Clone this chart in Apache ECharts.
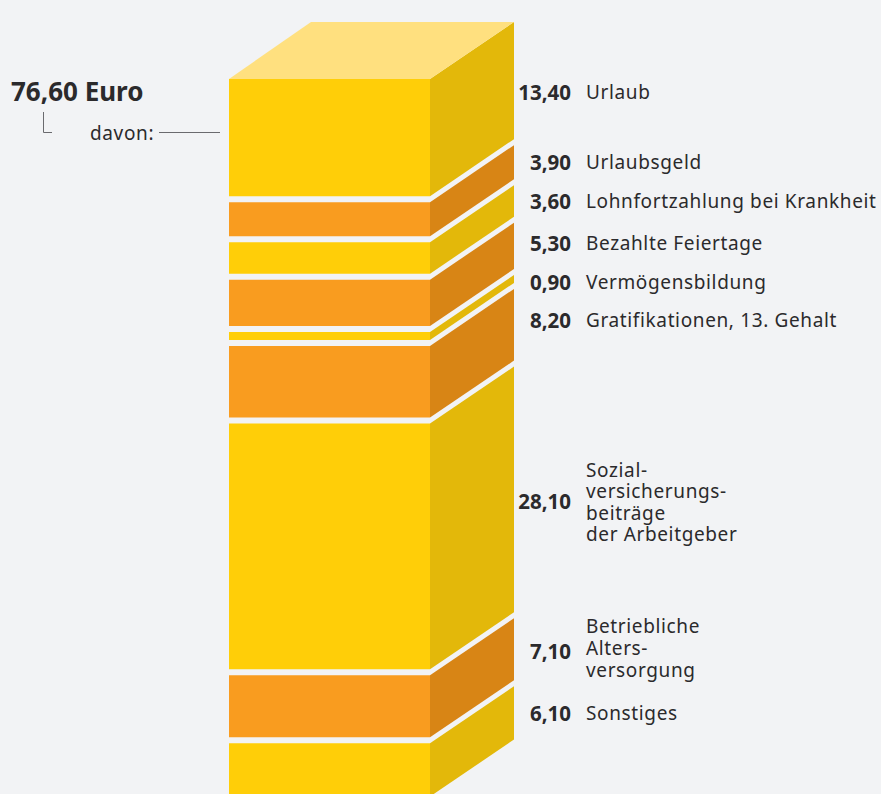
<!DOCTYPE html>
<html lang="de">
<head>
<meta charset="utf-8">
<title>Lohnnebenkosten</title>
<script src="https://cdn.jsdelivr.net/npm/echarts@6/dist/echarts.min.js"></script>
<style>
  html, body { margin: 0; padding: 0; background: #f2f3f5; }
  #chart { width: 881px; height: 794px; overflow: hidden; }
  #chart svg text { letter-spacing: 0.63px; }
  #chart svg text[style*="bold"] { letter-spacing: 0; }
</style>
</head>
<body>
<div id="chart"></div>
<script>
// Bestandteile der Personalzusatzkosten, je 100 Euro Bruttolohn
const total = '76,60 Euro';
const values = [13.4, 3.9, 3.6, 5.3, 0.9, 8.2, 28.1, 7.1, 6.1];
const valueLabels = ['13,40', '3,90', '3,60', '5,30', '0,90', '8,20', '28,10', '7,10', '6,10'];
const names = [
  'Urlaub',
  'Urlaubsgeld',
  'Lohnfortzahlung bei Krankheit',
  'Bezahlte Feiertage',
  'Vermögensbildung',
  'Gratifikationen, 13. Gehalt',
  'Sozial-\nversicherungs-\nbeiträge\nder Arbeitgeber',
  'Betriebliche\nAlters-\nversorgung',
  'Sonstiges'
];

// Layout der Beschriftung: Mittellinien der Wert- und Namensblöcke in Pixeln
const valueCenters = [92, 162, 201, 243, 282, 320, 501, 651, 713];
const nameCenters = [92, 162, 201, 243, 282, 320, 502, 648, 713];
const lineHeight = 21.6;

const gapValue = 0.6865;      // Abstand zwischen den Schichten, in Euro
const depthX = 84, depthY = 57; // perspektivischer Versatz der Säule
const bg = '#f2f3f5';
const ink = '#2b2a2c';
const frontColors = ['#ffce08', '#f99c1f'];
const sideColors = ['#e3b80a', '#d88515'];
const topColor = '#ffe07f';

// Schichten von oben nach unten aufeinanderlegen
let cursor = 0;
const segments = values.map(function (v, i) {
  const seg = [i, cursor, cursor + v];
  cursor += v + gapValue;
  return seg;
});

function renderSegment(params, api) {
  const idx = api.value(0);
  const a = api.coord([0, api.value(1)]);
  const b = api.coord([1, api.value(2)]);
  const c = idx % 2;
  const children = [
    {
      type: 'polygon',
      shape: { points: [[a[0], a[1]], [b[0], a[1]], [b[0], b[1]], [a[0], b[1]]] },
      style: { fill: frontColors[c] }
    },
    {
      type: 'polygon',
      shape: { points: [[b[0], a[1]], [b[0] + depthX, a[1] - depthY], [b[0] + depthX, b[1] - depthY], [b[0], b[1]]] },
      style: { fill: sideColors[c] }
    }
  ];
  if (idx === 0) {
    children.push({
      type: 'polygon',
      shape: { points: [[a[0], a[1]], [a[0] + depthX - 2, a[1] - depthY], [b[0] + depthX, a[1] - depthY], [b[0], a[1]]] },
      style: { fill: topColor }
    });
  }
  return { type: 'group', children: children };
}

// Wert rechtsbündig, Bezeichnung linksbündig als ein mehrzeiliger Block
const labelGraphics = [];
values.forEach(function (v, i) {
  labelGraphics.push({
    type: 'text', x: 571, y: valueCenters[i],
    style: { text: valueLabels[i], fill: ink, font: 'bold 20.5px "Noto Sans"', textAlign: 'right', textVerticalAlign: 'middle' }
  });
  labelGraphics.push({
    type: 'text', x: 586, y: nameCenters[i],
    style: { text: names[i], fill: ink, font: '19px "Noto Sans"', lineHeight: lineHeight, textAlign: 'left', textVerticalAlign: 'middle' }
  });
});

const chart = echarts.init(document.getElementById('chart'), null, { renderer: 'svg' });
chart.setOption({
  backgroundColor: bg,
  animation: false,
  grid: { left: 229, top: 79, width: 201, height: 715 },
  xAxis: { type: 'value', min: 0, max: 1, show: false },
  yAxis: { type: 'value', inverse: true, min: 0, max: 81.8, show: false },
  series: [{
    type: 'custom',
    clip: false,
    silent: true,
    renderItem: renderSegment,
    encode: { x: -1, y: [1, 2] },
    data: segments
  }],
  graphic: labelGraphics.concat([
    {
      type: 'text', x: 11, y: 90.5,
      style: { text: total, fill: ink, font: 'bold 26px "Noto Sans"', textAlign: 'left', textVerticalAlign: 'middle' }
    },
    {
      type: 'text', x: 90, y: 133,
      style: { text: 'davon:', fill: ink, font: '19px "Noto Sans"', textAlign: 'left', textVerticalAlign: 'middle' }
    },
    {
      type: 'polyline',
      shape: { points: [[43.5, 112], [43.5, 132.5], [52, 132.5]] },
      style: { stroke: '#6a6a6e', fill: null, lineWidth: 1 }
    },
    {
      type: 'line',
      shape: { x1: 159, y1: 132.5, x2: 220, y2: 132.5 },
      style: { stroke: '#6a6a6e', lineWidth: 1 }
    }
  ])
});
</script>
</body>
</html>
